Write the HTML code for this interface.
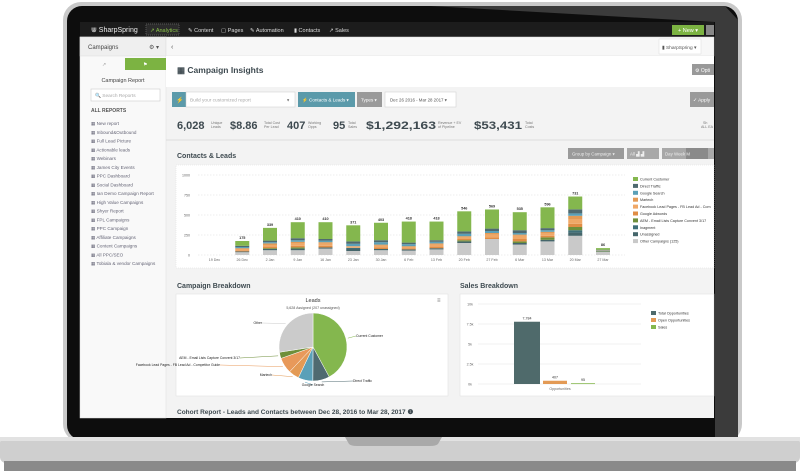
<!DOCTYPE html>
<html><head><meta charset="utf-8"><style>
html,body{margin:0;padding:0;background:#fff;}
svg{display:block;font-family:"Liberation Sans",sans-serif;}
</style></head><body>
<svg id="root" width="800" height="471" viewBox="0 0 800 471" xmlns="http://www.w3.org/2000/svg">
<rect x="63" y="2" width="679" height="440" rx="18" fill="#c9c9c9"/>
<rect x="67" y="6" width="671" height="434" rx="15" fill="#0d0d0d"/>
<polygon points="430,6 725,6 738,20 738,440 715,440 715,22" fill="#3b3b3b"/>
<rect x="0" y="437" width="800" height="26" rx="6" fill="#cfcfcf"/>
<rect x="0" y="437" width="800" height="4" fill="#e2e2e2"/>
<rect x="4" y="461" width="792" height="10" fill="#8a8a8a"/>
<path d="M345 437 L442 437 L438 444 Q436 446 430 446 L357 446 Q351 446 349 444 Z" fill="#a9a9a9"/>
<rect x="80" y="22" width="634" height="396" fill="#f3f3f3"/>
<rect x="80" y="22" width="634" height="15" fill="#1c1c1c"/>
<g font-size="5.5" fill="#ddd">
<text x="91" y="32" font-size="7" fill="#eee">⋓ SharpSpring</text>
<rect x="146" y="24" width="33" height="11" fill="#2b2b2b" stroke="#555" stroke-dasharray="1,1"/>
<text x="150" y="32" fill="#8bc34a">↗ Analytics</text>
<text x="188" y="32">✎ Content</text>
<text x="221" y="32">▢ Pages</text>
<text x="250" y="32">✎ Automation</text>
<text x="294" y="32">▮ Contacts</text>
<text x="329" y="32">↗ Sales</text>
<rect x="672" y="25" width="32" height="10" fill="#7cb342"/>
<text x="678" y="32" fill="#fff">+ New ▾</text>
<rect x="706" y="25" width="8" height="10" fill="#888"/>
</g>
<rect x="80" y="37" width="86" height="381" fill="#f9f9f9" stroke="#ddd" stroke-width="0.5"/>
<rect x="80" y="37" width="86" height="19" fill="#efefef" stroke="#ddd" stroke-width="0.5"/>
<text x="88" y="49" font-size="6" fill="#444">Campaigns</text>
<text x="149" y="49" font-size="6" fill="#555">⚙ ▾</text>
<rect x="125" y="58" width="41" height="12" fill="#7cb342"/>
<text x="102" y="66" font-size="5" fill="#999">↗</text>
<text x="143" y="66" font-size="5" fill="#fff">⚑</text>
<text x="123" y="82" font-size="5.5" fill="#444" text-anchor="middle">Campaign Report</text>
<rect x="91" y="89" width="69" height="12" fill="#fff" stroke="#ccc" stroke-width="0.6"/>
<text x="95" y="97" font-size="4.8" fill="#aaa">🔍 Search Reports</text>
<text x="91" y="112" font-size="5" fill="#555" font-weight="bold">ALL REPORTS</text>
<g id="reports" font-size="4.6" fill="#667"></g>
<rect x="166" y="37" width="548" height="19" fill="#f7f7f7" stroke="#ddd" stroke-width="0.5"/>
<text x="171" y="49" font-size="7" fill="#555">‹</text>
<rect x="659" y="39" width="42" height="15" fill="#fff" stroke="#ddd" stroke-width="0.5"/>
<text x="662" y="49" font-size="4.8" fill="#555">▮ SharpSpring ▾</text>
<rect x="166" y="56" width="548" height="31" fill="#fff"/>
<text x="177" y="73" font-size="8.5" font-weight="bold" fill="#3e4a50">▦ Campaign Insights</text>
<rect x="692" y="64" width="22" height="11" fill="#999"/>
<text x="695" y="72" font-size="5" fill="#fff">⚙ Opti</text>
<rect x="172" y="92" width="14" height="15" fill="#5b9aaa"/>
<text x="176" y="102" font-size="6" fill="#fff">⚡</text>
<rect x="186" y="92" width="109" height="15" fill="#fff" stroke="#ccc" stroke-width="0.5"/>
<text x="190" y="101.5" font-size="4.8" fill="#aaa">Build your customized report</text>
<text x="287" y="101.5" font-size="4.5" fill="#666">▾</text>
<rect x="298" y="92" width="57" height="15" fill="#5b9aaa"/>
<text x="302" y="101.5" font-size="4.6" fill="#fff">⚡ Contacts &amp; Leads ▾</text>
<rect x="357" y="92" width="25" height="15" fill="#9a9a9a"/>
<text x="361" y="101.5" font-size="4.6" fill="#fff">Types ▾</text>
<rect x="385" y="92" width="71" height="15" fill="#fff" stroke="#ccc" stroke-width="0.5"/>
<text x="390" y="101.5" font-size="4.4" fill="#555">Dec 26 2016 - Mar 28 2017   ▾</text>
<rect x="690" y="92" width="24" height="15" fill="#9a9a9a"/>
<text x="693" y="101.5" font-size="4.8" fill="#fff">✓ Apply</text>
<g fill="#3e4a50" font-weight="bold" font-size="11">
<text x="177" y="129">6,028</text><text x="211" y="124" font-size="3.6" font-weight="normal" fill="#777">Unique</text><text x="211" y="128" font-size="3.6" font-weight="normal" fill="#777">Leads</text>
<text x="230" y="129">$8.86</text><text x="264" y="124" font-size="3.6" font-weight="normal" fill="#777">Total Cost</text><text x="264" y="128" font-size="3.6" font-weight="normal" fill="#777">Per Lead</text>
<text x="287" y="129">407</text><text x="308" y="124" font-size="3.6" font-weight="normal" fill="#777">Working</text><text x="308" y="128" font-size="3.6" font-weight="normal" fill="#777">Opps</text>
<text x="333" y="129">95</text><text x="348" y="124" font-size="3.6" font-weight="normal" fill="#777">Total</text><text x="348" y="128" font-size="3.6" font-weight="normal" fill="#777">Sales</text>
<text x="366" y="129" textLength="70" lengthAdjust="spacingAndGlyphs">$1,292,163</text><text x="438" y="124" font-size="3.6" font-weight="normal" fill="#777">Revenue + EV</text><text x="438" y="128" font-size="3.6" font-weight="normal" fill="#777">of Pipeline</text>
<text x="474" y="129" textLength="48" lengthAdjust="spacingAndGlyphs">$53,431</text><text x="525" y="124" font-size="3.6" font-weight="normal" fill="#777">Total</text><text x="525" y="128" font-size="3.6" font-weight="normal" fill="#777">Costs</text>
<text x="703" y="124" font-size="3.6" font-weight="normal" fill="#777">Sh</text><text x="701" y="128" font-size="3.6" font-weight="normal" fill="#777">ALL EA</text>
</g>
<line x1="166" y1="140" x2="714" y2="140" stroke="#ddd"/>
<text x="177" y="158" font-size="7" font-weight="bold" fill="#3e4a50">Contacts &amp; Leads</text>
<rect x="568" y="148" width="56" height="11" fill="#9a9a9a"/>
<text x="572" y="155.5" font-size="4.4" fill="#eee">Group by Campaign ▾</text>
<rect x="627" y="148" width="32" height="11" fill="#a8a8a8"/>
<text x="630" y="155.5" font-size="4.4" fill="#eee">All  ▟  ▟</text>
<rect x="662" y="148" width="52" height="11" fill="#a8a8a8"/>
<rect x="686" y="148" width="22" height="11" fill="#8a8a8a"/>
<text x="665" y="155.5" font-size="4.4" fill="#eee">Day   Week  M</text>
<rect x="176" y="165" width="538" height="103" fill="#fff" stroke="#ddd" stroke-width="0.5" stroke-dasharray="1,1"/>
<g id="barChart"></g>
<text x="177" y="288" font-size="7" font-weight="bold" fill="#3e4a50">Campaign Breakdown</text>
<rect x="176" y="294" width="272" height="102" fill="#fff" stroke="#ddd" stroke-width="0.5"/>
<text x="313" y="302" font-size="5.5" text-anchor="middle" fill="#333">Leads</text>
<text x="313" y="309" font-size="3.6" text-anchor="middle" fill="#555">5,628 Assigned (207 unassigned)</text>
<text x="437" y="302" font-size="6" fill="#777">≡</text>
<g id="pieChart"></g>
<text x="460" y="288" font-size="7" font-weight="bold" fill="#3e4a50">Sales Breakdown</text>
<rect x="460" y="294" width="254" height="102" fill="#fff" stroke="#ddd" stroke-width="0.5"/>
<g id="salesChart"></g>
<text x="177" y="414" font-size="6.5" font-weight="bold" fill="#3e4a50">Cohort Report - Leads and Contacts between Dec 28, 2016 to Mar 28, 2017 ❶</text>
</svg>
<script>
const NS="http://www.w3.org/2000/svg";
function mk(parent,tag,attrs,text){const e=document.createElementNS(NS,tag);for(const k in attrs)e.setAttribute(k,attrs[k]);if(text!==undefined)e.textContent=text;parent.appendChild(e);return e;}

const reportNames=["New report","Inbound&Outbound","Full Lead Picture","Actionable leads","Webinars","James City Events","PPC Dashboard","Social Dashboard","Ian Demo Campaign Report","High Value Campaigns","Shyer Report","FPL Campaigns","PPC Campaign","Affiliate Campaigns","Content Campaigns","All PPC/SEO","Tobiala & vendor Campaigns"];

const weeks=["19 Dec","26 Dec","2 Jan","9 Jan","16 Jan","23 Jan","30 Jan","6 Feb","13 Feb","20 Feb","27 Feb","6 Mar","13 Mar","20 Mar","27 Mar"];
const seriesNames=["Other Campaigns (125)","Unassigned","Inagment","AEM - Email Lists Capture Convent 3/17","Google Adwords","Facebook Lead Pages - FB Lead Ad - Com","Martech","Google Search","Direct Traffic","Current Customer"];
const seriesColors=["#c9c9c9","#45666b","#3f6f78","#6f8f3a","#e08d45","#f0a867","#e39a55","#5aa0b8","#4f6a70","#84b74e"];
const otherVals=[0,35,60,60,80,50,60,55,70,150,200,130,170,240,40];
const unassignedVals=[0,10,15,20,15,25,15,15,15,20,0,20,20,40,5];
const inagmentVals=[0,0,0,0,0,15,0,0,0,0,0,0,0,30,0];
const aemVals=[0,0,10,15,0,0,0,0,0,15,0,20,30,40,5];
const adwordsVals=[0,10,20,20,20,0,20,15,20,15,20,30,20,40,0];
const facebookVals=[0,20,20,30,25,20,20,15,25,20,35,40,30,60,5];
const martechVals=[0,10,20,20,20,0,15,10,15,15,20,15,20,40,0];
const gsearchVals=[0,15,15,20,20,30,30,25,20,30,25,20,20,30,5];
const directVals=[0,15,20,25,20,30,25,20,20,30,30,35,26,51,6];
const currentVals=[0,60,159,200,210,201,218,263,233,251,239,225,260,160,20];
const yTicks=[0,250,500,750,1000];

const pieLabels=["Current Customer","Direct Traffic","Google Search","Martech","Facebook Lead Pages - FB Lead Ad - Competitor Guide","AEM - Email Lists Capture Convent 3/17","Other"];
const pieValues=[2530,480,420,300,450,180,1650];
const pieColors=["#84b74e","#4f6a70","#5aa0b8","#e39a55","#e8995a","#6f8f3a","#cbcbcb"];

const salesCats=["Total Opportunities","Open Opportunities","Sales"];
const salesValues=[7784,407,95];
const salesColors=["#4f6a6b","#e39a55","#84b74e"];
const salesTicks=[0,2500,5000,7500,10000];
const salesTickLabels=["0k","2.5k","5k","7.5k","10k"];

const rep=document.getElementById('reports');
reportNames.forEach((n,i)=>{
  const t=mk(rep,'text',{x:91,y:125+i*8.75},'▦ '+n);
  
  
});

const bc=document.getElementById('barChart');
const y0=255,pxPer=80/1000;
const yS=v=>y0-v*pxPer;
const xS=i=>214.5+i*27.75;
yTicks.forEach(t=>{
  mk(bc,'line',{x1:198,x2:625,y1:yS(t),y2:yS(t),stroke:'#ddd','stroke-width':0.5,'stroke-dasharray':'1.5,1.5'});
  const l=mk(bc,'text',{x:190,y:yS(t)+1.5,'font-size':3.6,fill:'#666','text-anchor':'end'},String(t));
  
  
});
const allSeries=[otherVals,unassignedVals,inagmentVals,aemVals,adwordsVals,facebookVals,martechVals,gsearchVals,directVals,currentVals];
weeks.forEach((w,i)=>{
  let cum=0;
  allSeries.forEach((s,k)=>{
    const v=s[i];if(v<=0)return;
    const r=mk(bc,'rect',{x:xS(i)-7,y:yS(cum+v),width:14,height:v*pxPer,fill:seriesColors[k]});
    
    
    cum+=v;
  });
  if(cum>0){
    const lab=mk(bc,'text',{x:xS(i),y:yS(cum)-2,'font-size':3.8,'text-anchor':'middle',fill:'#333','font-weight':'bold'},String(cum));
    
    
  }
  const xl=mk(bc,'text',{x:xS(i),y:261,'font-size':3.6,'text-anchor':'middle',fill:'#666'},w);
  
  
});
const legendOrder=[9,8,7,6,5,4,3,2,1,0];
legendOrder.forEach((k,j)=>{
  const y=178+j*6.9;
  const sw=mk(bc,'rect',{x:633,y:y-1,width:5,height:4,fill:seriesColors[k]});
  
  
  const lt=mk(bc,'text',{x:640,y:y+2.5,'font-size':3.7,fill:'#333'},seriesNames[k]);
  
  
});

const pc=document.getElementById('pieChart');
const cx=313,cy=347,R=34;
const tot=pieValues.reduce((a,b)=>a+b,0);
let ang=0;
const labelPos=[[356,337,'start'],[353,382,'start'],[313,386,'middle'],[272,376,'end'],[220,366,'end'],[240,359,'end'],[262,324,'end']];
pieValues.forEach((v,i)=>{
  const a0=ang,a1=ang+v/tot*2*Math.PI;ang=a1;
  const p=a=>[cx+R*Math.sin(a),cy-R*Math.cos(a)];
  const [x0,y0_]=p(a0),[x1,y1]=p(a1);
  const large=(a1-a0)>Math.PI?1:0;
  const s=mk(pc,'path',{d:`M${cx},${cy} L${x0},${y0_} A${R},${R} 0 ${large} 1 ${x1},${y1} Z`,fill:pieColors[i],stroke:'#fff','stroke-width':0.5});
  
  
  const mid=(a0+a1)/2;const [mx,my]=[cx+(R+2)*Math.sin(mid),cy-(R+2)*Math.cos(mid)];
  const lp=labelPos[i];
  mk(pc,'line',{x1:mx,y1:my,x2:lp[0],y2:lp[1]-1,stroke:pieColors[i],'stroke-width':0.5});
  const t=mk(pc,'text',{x:lp[0],y:lp[1],'font-size':3.4,fill:'#222','text-anchor':lp[2]},pieLabels[i]);
  
  
});

const sc=document.getElementById('salesChart');
const sy0=384,sPer=80/10000;
const sY=v=>sy0-v*sPer;
salesTicks.forEach((t,i)=>{
  mk(sc,'line',{x1:478,x2:641,y1:sY(t),y2:sY(t),stroke:'#e2e2e2','stroke-width':0.5});
  const l=mk(sc,'text',{x:470,y:sY(t)+1.3,'font-size':3.6,fill:'#666','text-anchor':'middle'},salesTickLabels[i]);
  
  
});
const sxS=i=>527+i*28;
salesValues.forEach((v,i)=>{
  const w=i===0?26:24;
  const r=mk(sc,'rect',{x:sxS(i)-w/2,y:sY(v),width:w,height:Math.max(v*sPer,0.8),fill:salesColors[i]});
  
  
  const l=mk(sc,'text',{x:sxS(i),y:sY(v)-2,'font-size':3.6,fill:'#333','text-anchor':'middle'},v.toLocaleString('en-US'));
  
  
});
const xl=mk(sc,'text',{x:560,y:390,'font-size':3.6,fill:'#666','text-anchor':'middle'},'Opportunities');


salesCats.forEach((c,i)=>{
  const y=312+i*7;
  mk(sc,'rect',{x:651,y:y-1,width:5,height:4,fill:salesColors[i]});
  const t=mk(sc,'text',{x:658,y:y+2.5,'font-size':3.7,fill:'#333'},c);
  
  
});
</script>
</body></html>
